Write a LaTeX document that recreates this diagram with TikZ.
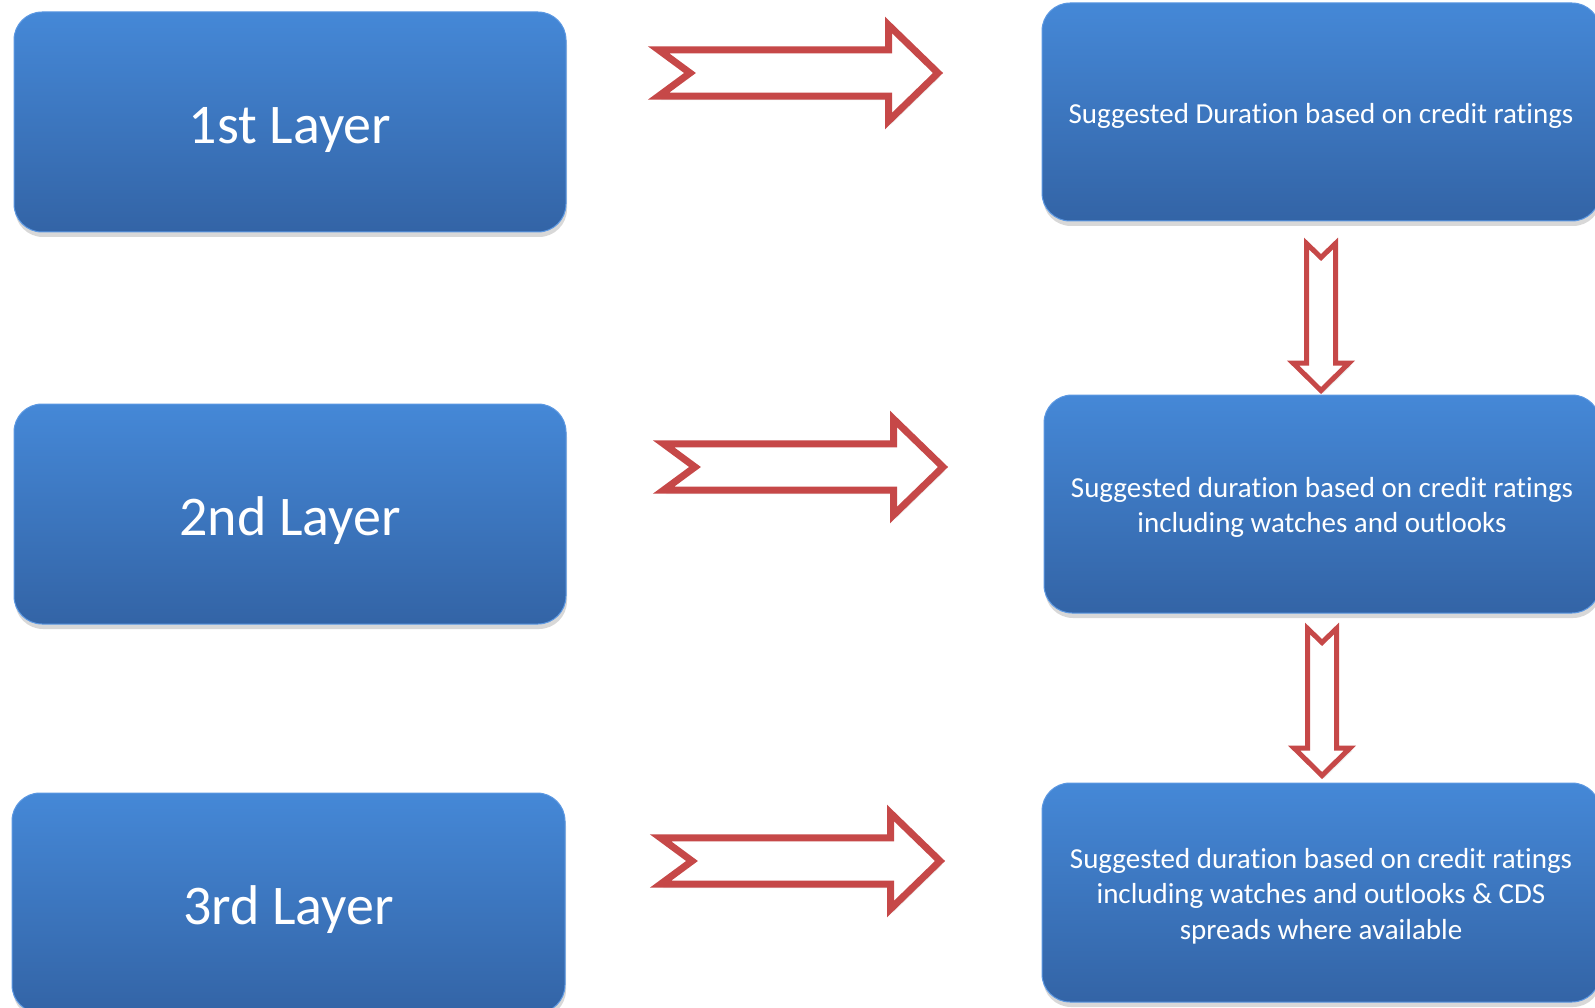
\documentclass[tikz,border=0pt]{standalone}
\usepackage{fontspec}
\setmainfont{Carlito}[Ligatures=NoCommon]
\usetikzlibrary{shadows,calc}
\definecolor{boxtop}{RGB}{69,136,215}
\definecolor{boxbot}{RGB}{51,100,166}
\definecolor{boxedge}{RGB}{92,152,226}
\definecolor{arrred}{RGB}{198,72,72}
\newcommand{\bigstrut}{\rule{0pt}{52pt}}
\newcommand{\smallstrut}{\rule{0pt}{27pt}}
\tikzset{
  layerbox/.style={rectangle, rounded corners=28pt, top color=boxtop, bottom color=boxbot,
    draw=boxedge, line width=1pt, text=white, align=center, inner sep=0pt,
    drop shadow={shadow xshift=1pt, shadow yshift=-5pt, opacity=0.3}},
  bigtext/.style={font=\fontsize{56}{68}\selectfont},
  smalltext/.style={font=\fontsize{29}{35.5}\selectfont},
  rblock/.style={draw=arrred, fill=white, line width=7pt, line join=miter,
    drop shadow={shadow xshift=2pt, shadow yshift=-4pt, opacity=0.15}},
  dblock/.style={draw=arrred, fill=white, line width=5pt, line join=miter,
    drop shadow={shadow xshift=2pt, shadow yshift=-3pt, opacity=0.15}},
  rarrow/.pic={\path[rblock] (6.5,-23.2) -- (38,0) -- (6.5,23.2) -- (236.5,23.2)
     -- (236.5,48) -- (286,0) -- (236.5,-48) -- (236.5,-23.2) -- cycle;},
  darrow/.pic={\path[dblock] (-14.5,6) -- (0,20) -- (14.5,6) -- (14.5,125.5)
     -- (28,125.5) -- (0,153) -- (-28,125.5) -- (-14.5,125.5) -- cycle;},
}
\begin{document}
\begin{tikzpicture}[x=1pt,y=-1pt]
\useasboundingbox (0,0) rectangle (1595,1008);
\clip (0,0) rectangle (1595,1008);
\fill[white] (0,0) rectangle (1595,1008);
% left boxes
\node[layerbox, bigtext, minimum width=552pt, minimum height=220pt] (L1) at (290,122) {\bigstrut 1st Layer};
\node[layerbox, bigtext, minimum width=552pt, minimum height=220pt] (L2) at (290,514) {\bigstrut 2nd Layer};
\node[layerbox, bigtext, minimum width=553pt, minimum height=220pt] (L3) at (288.5,903) {\bigstrut 3rd Layer};
% right boxes
\node[layerbox, smalltext, minimum width=558pt, minimum height=218pt] (R1) at (1321,112)
  {\smallstrut Suggested Duration based on credit ratings};
\node[layerbox, smalltext, minimum width=556pt, minimum height=218pt] (R2) at (1322,504)
  {\smallstrut Suggested duration based on credit ratings\\including watches and outlooks};
\node[layerbox, smalltext, minimum width=558pt, minimum height=219pt] (R3) at (1321,892.5)
  {\smallstrut Suggested duration based on credit ratings\\including watches and outlooks \& CDS\\spreads where available};
% block arrows
\coordinate (A1) at (652,73);
\coordinate (A2) at (657,467);
\coordinate (A3) at (654,861);
\pic at (A1) {rarrow};
\pic at (A2) {rarrow};
\pic at (A3) {rarrow};
\coordinate (D1) at ($(R1.south)+(0,16)$);
\coordinate (D2) at ($(R2.south)+(0,9)$);
\pic at (D1) {darrow};
\pic at (D2) {darrow};
\end{tikzpicture}
\end{document}
